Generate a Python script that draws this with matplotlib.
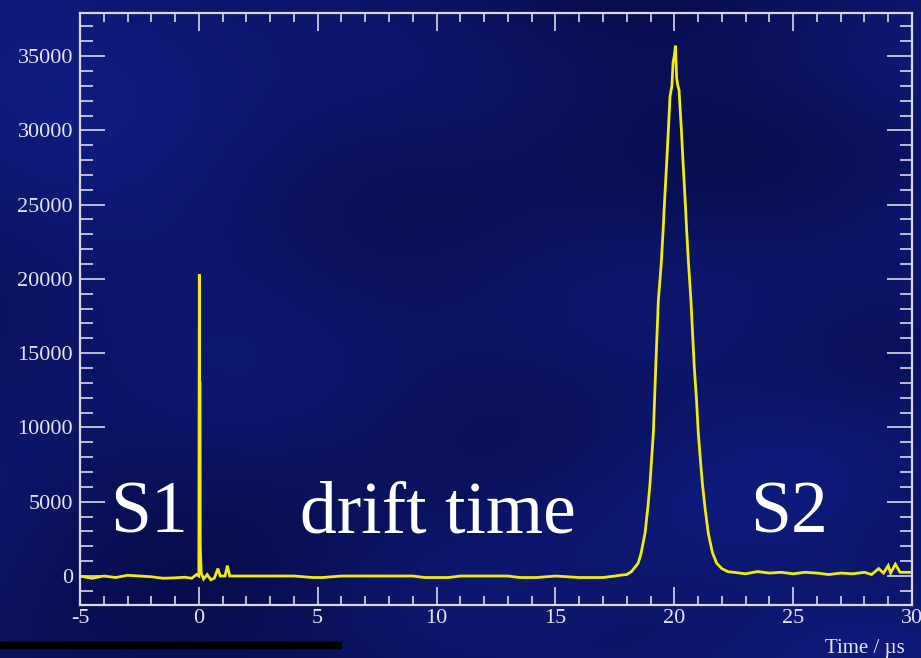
import numpy as np
import matplotlib
matplotlib.use("Agg")
import matplotlib.pyplot as plt
from matplotlib.ticker import MultipleLocator
from matplotlib.patches import Rectangle

plt.rcParams["axes.unicode_minus"] = False

# ---- data ----
time_us = [-5.0, -4.5, -4.0, -3.5, -3.0, -2.5, -2.0, -1.5, -1.0, -0.6, -0.3, -0.1, 0.0,
           0.02, 0.03, 0.05, 0.06, 0.1, 0.2, 0.35, 0.5, 0.65, 0.8, 0.9, 1.1, 1.2, 1.3,
           2.0, 3.0, 4.0, 4.8, 5.2, 6.0, 7.0, 8.0, 9.0, 9.5, 10.5, 11.0, 12.0, 13.0,
           13.5, 14.2, 15.0, 16.0, 17.0, 17.5, 17.8,
           18.0, 18.2, 18.48, 18.6, 18.77, 18.9, 18.98, 19.05, 19.12, 19.22, 19.33,
           19.45, 19.53, 19.6, 19.68, 19.75, 19.82, 19.9, 19.95, 20.0, 20.05, 20.1,
           20.15, 20.2, 20.3, 20.37, 20.45, 20.52, 20.6, 20.7, 20.84, 20.93, 21.01,
           21.1, 21.18, 21.3, 21.43, 21.6, 21.78, 22.0, 22.26, 22.5,
           23.0, 23.5, 24.0, 24.5, 25.0, 25.5, 26.0, 26.5, 27.0, 27.5, 28.0, 28.3,
           28.6, 28.8, 29.0, 29.1, 29.3, 29.5, 30.0]
signal = [0, -150, 0, -100, 50, 0, -50, -150, -120, -80, -150, 100, 0,
          20300, 13000, 13000, 1900, 200, -200, 100, -250, -150, 500, 0, 0, 700, 0,
          0, 0, 0, -100, -100, 0, 0, 0, 0, -100, -100, 0, 0, 0,
          -100, -100, 0, -100, -100, 0, 70,
          100, 300, 870, 1500, 2890, 4800, 6250, 8000, 9620, 14090, 18570,
          21000, 23280, 25500, 27800, 30000, 32270, 33000, 34600, 35000, 35700, 33500,
          33000, 32700, 30000, 27800, 25500, 23280, 21000, 18570, 14090, 12000, 9620,
          7800, 6250, 4500, 2890, 1600, 870, 500, 290, 250,
          150, 300, 200, 250, 150, 250, 200, 100, 200, 150, 250, 100,
          500, 200, 700, 200, 800, 250, 250]

x_ticks = [-5, 0, 5, 10, 15, 20, 25, 30]
y_ticks = [0, 5000, 10000, 15000, 20000, 25000, 30000, 35000]
labels = {"S1": (-3.75, 2950), "drift time": (4.25, 2950), "S2": (23.2, 2950)}
x_label = "Time / \u00b5s"

W, H, DPI = 921, 658, 100
fig = plt.figure(figsize=(W / DPI, H / DPI), dpi=DPI)

# decorative textured navy background (deterministic)
bg = fig.add_axes([0, 0, 1, 1], zorder=-10)
yy, xx = np.mgrid[0:1:330j, 0:1:460j]
field = (np.sin(6.1 * xx + 2.3 * yy + 0.7) + 0.8 * np.sin(3.3 * yy - 4.7 * xx + 1.9)
         + 0.6 * np.sin(9.7 * xx * yy + 11.0 * yy) + 0.5 * np.cos(13.0 * xx - 7.0 * yy + 0.4))
field = (field - field.min()) / (field.max() - field.min())
dark = np.array([0.03, 0.05, 0.30])
bright = np.array([0.06, 0.11, 0.50])
img = dark + (bright - dark) * field[..., None]
bg.imshow(img, aspect="auto", extent=[0, 1, 0, 1], origin="upper")
bg.axis("off")
bg.add_patch(Rectangle((0, 0.015), 0.37, 0.01, color="black", transform=bg.transAxes))

ax = fig.add_axes([80 / W, 1 - 605 / H, (912 - 80) / W, (605 - 13) / H])
ax.set_facecolor("none")
ax.plot(time_us, signal, color="#f0ec10", lw=2.0, solid_joinstyle="miter")

ax.set_xlim(-5, 30)
ax.set_ylim(-1950, 37900)

frame_col = "#d8d8e8"
for s in ax.spines.values():
    s.set_color(frame_col)
    s.set_linewidth(1.6)

ax.set_xticks(x_ticks)
ax.set_yticks(y_ticks)
ax.xaxis.set_minor_locator(MultipleLocator(1))
ax.yaxis.set_minor_locator(MultipleLocator(1000))
ax.tick_params(axis="both", which="both", direction="in", colors=frame_col,
               top=True, right=True, width=1.2)
ax.tick_params(axis="y", which="major", length=18)
ax.tick_params(axis="y", which="minor", length=9)
ax.tick_params(axis="x", which="major", length=13)
ax.tick_params(axis="x", which="minor", length=6.5)
ax.tick_params(axis="both", labelcolor="#e4e4f0", labelsize=16)
for lab in ax.get_xticklabels() + ax.get_yticklabels():
    lab.set_fontfamily("Liberation Serif")
ax.tick_params(axis="y", pad=5)
ax.tick_params(axis="x", pad=3)

for txt, (tx, ty) in labels.items():
    ax.text(tx, ty, txt, color="white", fontsize=53, family="Liberation Serif",
            ha="left", va="baseline")

fig.text(905 / W, 1 - 648 / H, x_label, color="#e4e4f0", fontsize=15,
         family="Liberation Serif", ha="right", va="center")

fig.savefig("out.png", dpi=DPI)
